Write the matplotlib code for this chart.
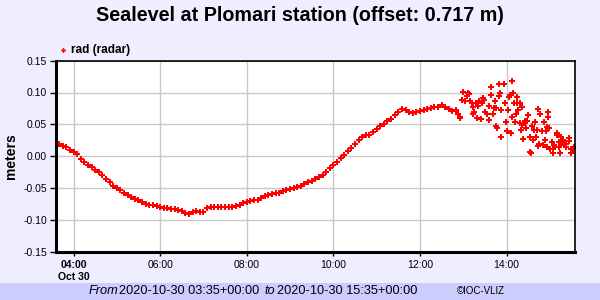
import matplotlib
matplotlib.use("Agg")
import matplotlib.pyplot as plt
import numpy as np

plt.rcParams['font.family'] = ['Liberation Sans', 'DejaVu Sans']

# minutes after 2020-10-30 03:35 UTC, sea level (m), radar sensor
minutes_a = list(range(0, 560, 5))
level_a = [0.021, 0.019, 0.016, 0.014, 0.010, 0.006, 0.003, -0.004, -0.009, -0.013,
           -0.016, -0.021, -0.025, -0.030, -0.035, -0.040, -0.046, -0.050, -0.053, -0.057,
           -0.061, -0.064, -0.067, -0.069, -0.072, -0.074, -0.076, -0.077, -0.078, -0.080,
           -0.081, -0.081, -0.082, -0.083, -0.084, -0.086, -0.089, -0.091, -0.088, -0.085,
           -0.087, -0.087, -0.081, -0.080, -0.079, -0.080, -0.080, -0.080, -0.080, -0.080,
           -0.078, -0.076, -0.073, -0.071, -0.070, -0.069, -0.068, -0.065, -0.062, -0.061,
           -0.059, -0.058, -0.057, -0.055, -0.053, -0.051, -0.049, -0.048, -0.046, -0.044,
           -0.041, -0.038, -0.035, -0.032, -0.029, -0.024, -0.019, -0.014, -0.009, -0.003,
           0.002, 0.008, 0.013, 0.019, 0.025, 0.031, 0.034, 0.034, 0.038, 0.043,
           0.047, 0.051, 0.055, 0.059, 0.064, 0.069, 0.074, 0.072, 0.069, 0.068,
           0.069, 0.071, 0.073, 0.074, 0.075, 0.077, 0.078, 0.081, 0.078, 0.074,
           0.071, 0.073]

# noisy part after ~12:50
minutes_b = [558, 560, 561, 563, 565, 567, 570, 572, 573, 574, 577, 578, 579, 580, 583,
             584, 586, 587, 589, 591, 593, 594, 595, 598, 600, 601, 603, 604, 606, 608,
             609, 610, 611, 612, 614, 615, 616, 618, 618, 621, 622, 623, 624, 625, 627,
             628, 630, 631, 632, 633, 634, 636, 637, 638, 639, 640, 641, 643, 644, 645,
             646, 647, 648, 650, 651, 652, 653, 655, 657, 657, 659, 660, 662, 663, 664,
             666, 667, 668, 669, 670, 671, 672, 674, 676, 677, 678, 680, 681, 681, 683,
             683, 684, 685, 688, 689, 690, 691, 692, 695, 695, 697, 698, 699, 700, 701,
             703, 704, 705, 707, 708, 711, 712, 714, 715, 717, 718]
level_b = [0.066, 0.062, 0.060, 0.089, 0.101, 0.086, 0.094, 0.099, 0.098, 0.087,
           0.083, 0.067, 0.077, 0.070, 0.084, 0.060, 0.079, 0.086, 0.058, 0.083,
           0.091, 0.088, 0.070, 0.067, 0.057, 0.079, 0.109, 0.096, 0.067, 0.075,
           0.086, 0.075, 0.047, 0.044, 0.094, 0.113, 0.099, 0.030, 0.073, 0.113,
           0.113, 0.083, 0.054, 0.039, 0.073, 0.093, 0.096, 0.036, 0.062, 0.118,
           0.100, 0.083, 0.054, 0.067, 0.083, 0.093, 0.073, 0.052, 0.083, 0.042,
           0.078, 0.049, 0.027, 0.052, 0.056, 0.044, 0.056, 0.065, 0.031, 0.007,
           0.005, 0.047, 0.026, 0.041, 0.054, 0.030, 0.041, 0.074, 0.016, 0.020,
           0.066, 0.066, 0.039, 0.018, 0.054, 0.026, 0.040, 0.015, 0.046, 0.070,
           0.062, 0.044, 0.012, 0.023, 0.012, 0.005, 0.018, 0.014, 0.037, 0.033,
           0.023, 0.014, 0.005, 0.018, 0.031, 0.026, 0.023, 0.021, 0.020, 0.015,
           0.028, 0.024, 0.012, 0.005, 0.012, 0.014]

yticks = [0.15, 0.10, 0.05, 0.00, -0.05, -0.10, -0.15]
xtick_hours = [4, 6, 8, 10, 12, 14]
xtick_labels = ["04:00\nOct 30", "06:00", "08:00", "10:00", "12:00", "14:00"]

start = 3 + 35 / 60.0
hours = [start + m / 60.0 for m in minutes_a + minutes_b]
levels = level_a + level_b

bg = "#eeeeff"
fig = plt.figure(figsize=(6, 3), dpi=100, facecolor=bg)
ax = fig.add_axes([0.0925, 0.16, 0.866, 0.638])
ax.set_facecolor("white")

ax.plot(hours, levels, linestyle="none", marker="P", markersize=4,
        color="red", markeredgewidth=0)

ax.set_xlim(start, start + 12)
ax.set_ylim(-0.15, 0.15)
ax.set_yticks(yticks)
ax.set_yticklabels(["%.2f" % v for v in yticks], fontsize=7.5)
ax.set_xticks(xtick_hours)
ax.set_xticklabels(xtick_labels, fontsize=7.5)
ax.get_xticklabels()[0].set_fontweight("bold")
ax.tick_params(axis="x", length=3, width=1, pad=3)
ax.tick_params(axis="y", length=4, width=1, pad=2)
ax.grid(True, color="#c8c8c8", linewidth=1)
ax.set_axisbelow(True)

for side in ["left", "bottom"]:
    ax.spines[side].set_linewidth(2.2)
for side in ["top", "right"]:
    ax.spines[side].set_linewidth(1.2)

ax.set_ylabel("meters", fontsize=10, fontweight="bold", labelpad=4)

fig.text(0.5, 0.948, "Sealevel at Plomari station (offset: 0.717 m)",
         ha="center", va="center", fontsize=14.2, fontweight="bold")

# legend above the plot area
fig.lines.append(plt.Line2D([0.105], [0.835], transform=fig.transFigure,
                            marker="P", markersize=3.5, color="red",
                            markeredgewidth=0, linestyle="none"))
fig.text(0.118, 0.835, "rad (radar)", ha="left", va="center",
         fontsize=8.5, fontweight="bold")

# footer band
fig.patches.append(plt.Rectangle((0, 0), 1, 0.057, transform=fig.transFigure,
                                 facecolor="#ccccff", edgecolor="none"))
fs = 9.2
fig.text(0.147, 0.029, "From", style="italic", fontsize=fs, va="center")
fig.text(0.199, 0.029, "2020-10-30 03:35+00:00", fontsize=fs, va="center")
fig.text(0.441, 0.029, "to", style="italic", fontsize=fs, va="center")
fig.text(0.461, 0.029, "2020-10-30 15:35+00:00", fontsize=fs, va="center")
fig.text(0.762, 0.029, "\u00a9IOC-VLIZ", fontsize=7, va="center")

fig.savefig("out.png", dpi=100, facecolor=bg)
